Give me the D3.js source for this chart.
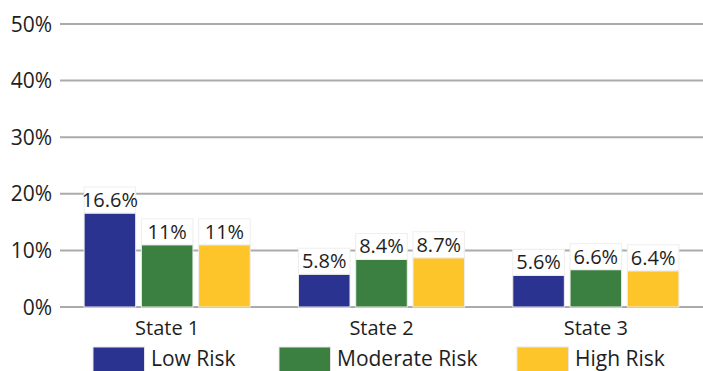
<!DOCTYPE html>
<html><head><meta charset="utf-8">
<script src="https://cdn.jsdelivr.net/npm/d3@7"></script>
<style>body{margin:0;background:#fff}svg{display:block}text{font-family:"Open Sans",sans-serif;fill:#1e1e1e}</style>
</head><body><svg id="c" width="703" height="371"></svg>
<script>
const categories = ["State 1", "State 2", "State 3"];
const series = ["Low Risk", "Moderate Risk", "High Risk"];
const lowRisk = [16.6, 5.8, 5.6];
const moderateRisk = [11, 8.4, 6.6];
const highRisk = [11, 8.7, 6.4];
const valueLabels = [["16.6%", "11%", "11%"], ["5.8%", "8.4%", "8.7%"], ["5.6%", "6.6%", "6.4%"]];
const yTicks = [0, 10, 20, 30, 40, 50];
const colors = ["#2b3390", "#3b8040", "#fec52a"];

const seriesValues = [lowRisk, moderateRisk, highRisk];
const svg = d3.select("#c");
const y = d3.scaleLinear().domain([0, 50]).range([307, 24]);
const x0 = d3.scaleBand().domain(categories).range([60, 703]).paddingInner(0.225).paddingOuter(0.1125);
const x1 = d3.scaleBand().domain(series).range([0, x0.bandwidth()]).paddingInner(0.1);

// grid
svg.append("g").selectAll("line").data(yTicks).join("line")
  .attr("x1", 60).attr("x2", 703).attr("y1", d => y(d)).attr("y2", d => y(d))
  .attr("stroke", "#ababab").attr("stroke-width", 2);
svg.append("g").selectAll("text").data(yTicks).join("text")
  .attr("x", 52).attr("y", d => y(d) + 7.5).attr("text-anchor", "end")
  .attr("font-size", 21).text(d => d + "%");

const rows = [];
categories.forEach((c, i) => series.forEach((s, j) => rows.push({c, s, j, v: seriesValues[j][i], label: valueLabels[i][j]})));

const g = svg.append("g");
g.selectAll("rect.bar").data(rows).join("rect").attr("class", "bar")
  .attr("x", d => x0(d.c) + x1(d.s)).attr("width", x1.bandwidth())
  .attr("y", d => y(d.v)).attr("height", d => y(0) - y(d.v))
  .attr("fill", d => colors[d.j]).attr("stroke", "#ececec").attr("stroke-width", 1);
g.selectAll("rect.lb").data(rows).join("rect").attr("class", "lb")
  .attr("x", d => x0(d.c) + x1(d.s)).attr("width", x1.bandwidth())
  .attr("y", d => y(d.v) - 26).attr("height", 26)
  .attr("fill", "#fff").attr("stroke", "#eeeeee").attr("stroke-width", 1);
g.selectAll("text.vl").data(rows).join("text").attr("class", "vl")
  .attr("x", d => x0(d.c) + x1(d.s) + x1.bandwidth() / 2).attr("y", d => y(d.v) - 6)
  .attr("text-anchor", "middle").attr("font-size", 20).text(d => d.label);

svg.append("g").selectAll("text").data(categories).join("text")
  .attr("x", d => x0(d) + x0.bandwidth() / 2).attr("y", 334.5)
  .attr("text-anchor", "middle").attr("font-size", 20).text(d => d);

const legX = [93, 279, 517];
const lg = svg.append("g").selectAll("g").data(series).join("g")
  .attr("transform", (d, i) => `translate(${legX[i]},347)`);
lg.append("rect").attr("width", x1.bandwidth()).attr("height", 26).attr("fill", (d, i) => colors[i])
  .attr("stroke", "#e6e6e6").attr("stroke-width", 1);
lg.append("text").attr("x", 58).attr("y", 18.5).attr("font-size", 21).text(d => d);
</script></body></html>
